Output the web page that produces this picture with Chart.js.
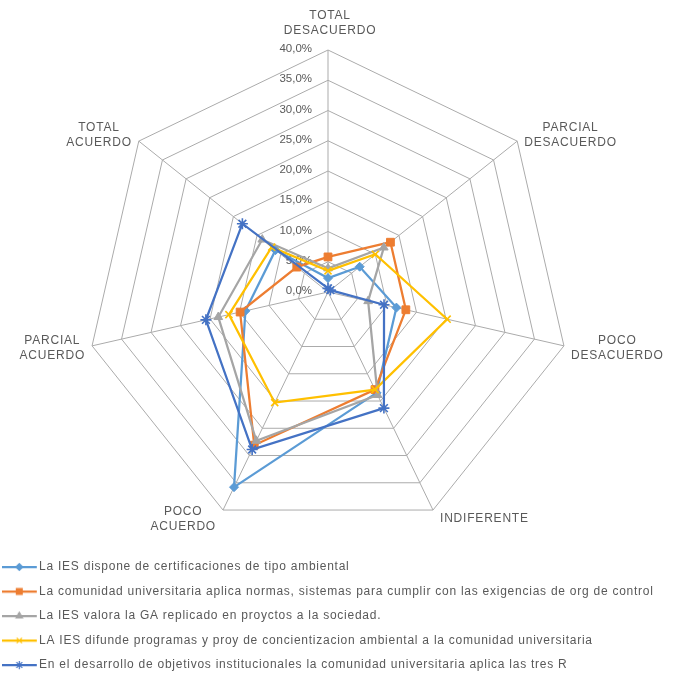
<!DOCTYPE html>
<html>
<head>
<meta charset="utf-8">
<script src="https://cdn.jsdelivr.net/npm/chart.js@4.4.1/dist/chart.umd.min.js"></script>
<style>
html,body{margin:0;padding:0;background:#ffffff;}
#wrap{width:679px;height:679px;}
</style>
</head>
<body>
<div id="wrap"><canvas id="c" width="679" height="679"></canvas></div>
<script>
// ---------- DATA ----------
const categories = [
  ['TOTAL', 'DESACUERDO'],
  ['PARCIAL', 'DESACUERDO'],
  ['POCO', 'DESACUERDO'],
  ['INDIFERENTE'],
  ['POCO', 'ACUERDO'],
  ['PARCIAL', 'ACUERDO'],
  ['TOTAL', 'ACUERDO']
];
const seriesNames = [
  'La IES dispone de certificaciones de tipo ambiental',
  'La comunidad universitaria aplica normas, sistemas para cumplir con las exigencias de org de control',
  'La IES valora la GA replicado en proyctos a la sociedad.',
  'LA IES difunde programas y proy de concientizacion ambiental a la comunidad universitaria',
  'En el desarrollo de objetivos institucionales la comunidad universitaria aplica las tres R'
];
// values in percent
const certificaciones = [2.3, 6.7, 11.6, 18.5, 35.8, 14.0, 11.1];
const normas          = [5.8, 13.2, 13.2, 17.9, 28.1, 14.9, 6.6];
const valoraGA        = [3.9, 11.8, 6.8, 18.9, 27.3, 18.6, 13.9];
const difunde         = [3.5, 10.0, 20.2, 17.9, 20.3, 16.8, 11.9];
const tresR           = [0.6, 0.5, 9.5, 21.3, 28.9, 20.7, 18.1];
const scaleMin = 0, scaleMax = 40, scaleStep = 5;

// ---------- STYLE ----------
const FONT = '"Liberation Sans", Arial, sans-serif';
const TEXT_COLOR = '#595959';
const colors = ['#5B9BD5', '#ED7D31', '#A5A5A5', '#FFC000', '#4472C4'];
const pStyles = ['rectRot', 'rect', 'triangle', 'crossRot', 'star'];
const pRadius = [4.5, 5.5, 5, 5, 5.5];
const seriesValues = [certificaciones, normas, valoraGA, difunde, tresR];

function fmtPct(v) { return v.toFixed(1).replace('.', ',') + '%'; }

function makeIcon(color, style, radius) {
  const c = document.createElement('canvas');
  c.width = 42; c.height = 14;
  const g = c.getContext('2d');
  g.strokeStyle = color; g.lineWidth = 2.25;
  g.beginPath(); g.moveTo(0, 7); g.lineTo(35, 7); g.stroke();
  g.fillStyle = color; g.lineWidth = 1.2;
  if (Chart.helpers && Chart.helpers.drawPoint) {
    Chart.helpers.drawPoint(g, {pointStyle: style, radius: radius, borderWidth: 1.2, rotation: 0}, 17.5, 7);
  }
  return c;
}
const legendIcons = colors.map((c, i) => makeIcon(c, pStyles[i], pRadius[i] * 0.75));

const datasets = seriesNames.map((name, i) => ({
  label: name,
  data: seriesValues[i],
  borderColor: colors[i],
  backgroundColor: colors[i],
  pointBackgroundColor: colors[i],
  pointBorderColor: colors[i],
  pointStyle: pStyles[i],
  pointRadius: pRadius[i],
  pointBorderWidth: (pStyles[i] === 'crossRot' || pStyles[i] === 'star') ? 1.6 : 1,
  borderWidth: 2.25,
  fill: false,
  tension: 0,
  order: seriesNames.length - i
}));

const textPlugin = {
  id: 'radarText',
  beforeDraw(chart) {
    chart.ctx.letterSpacing = '0.75px';
  },
  beforeDatasetsDraw(chart) {
    const ctx = chart.ctx, s = chart.scales.r;
    ctx.save();
    ctx.letterSpacing = '0px';
    ctx.font = '11.5px ' + FONT;
    ctx.fillStyle = TEXT_COLOR;
    ctx.textAlign = 'right';
    ctx.textBaseline = 'middle';
    s.ticks.forEach(t => {
      const d = s.getDistanceFromCenterForValue(t.value);
      ctx.fillText(fmtPct(t.value), s.xCenter - 16, s.yCenter - d - 1);
    });
    ctx.restore();
  },
  afterDraw(chart) {
    const ctx = chart.ctx, s = chart.scales.r;
    ctx.save();
    ctx.letterSpacing = '0.8px';
    ctx.font = '12px ' + FONT;
    ctx.fillStyle = TEXT_COLOR;
    ctx.textAlign = 'center';
    ctx.textBaseline = 'middle';
    const lh = 15;
    chart.data.labels.forEach((lab, i) => {
      const lines = Array.isArray(lab) ? lab : [lab];
      const p = s.getPointPosition(i, s.drawingArea);
      const ang = s.getIndexAngle(i) - Math.PI / 2;
      const dx = Math.cos(ang), dy = Math.sin(ang);
      const w = Math.max(...lines.map(l => ctx.measureText(l).width));
      let cx, cy;
      if (Math.abs(dx) < 0.01) { cx = p.x + 2; cy = p.y - 27; }
      else { cx = p.x + Math.sign(dx) * (w / 2 + 7); cy = p.y + 10 * dy; }
      lines.forEach((l, k) => ctx.fillText(l, cx, cy + (k - (lines.length - 1) / 2) * lh));
    });
    ctx.restore();
    ctx.letterSpacing = '0px';
  }
};

new Chart(document.getElementById('c'), {
  type: 'radar',
  data: { labels: categories, datasets: datasets },
  options: {
    responsive: false,
    animation: false,
    devicePixelRatio: 1,
    layout: { padding: { bottom: -2 } },
    plugins: {
      tooltip: { enabled: false },
      legend: {
        position: 'bottom',
        align: 'start',
        labels: {
          usePointStyle: true,
          pointStyleWidth: 20.6,
          padding: 12.5,
          color: TEXT_COLOR,
          font: { family: FONT, size: 12 },
          generateLabels(chart) {
            return chart.data.datasets.map((ds, i) => ({
              text: ds.label,
              fillStyle: ds.borderColor,
              strokeStyle: ds.borderColor,
              lineWidth: 0,
              pointStyle: legendIcons[i],
              fontColor: TEXT_COLOR,
              hidden: false,
              datasetIndex: i
            }));
          }
        }
      }
    },
    scales: {
      r: {
        min: scaleMin,
        max: scaleMax,
        ticks: { stepSize: scaleStep, display: false },
        pointLabels: { display: false },
        grid: { color: '#ABABAB', lineWidth: 1 },
        angleLines: { color: '#ABABAB', lineWidth: 1 },
        afterFit(s) { s.xCenter = 328; s.yCenter = 292; s.drawingArea = 242; }
      }
    }
  },
  plugins: [textPlugin]
});
</script>
</body>
</html>
